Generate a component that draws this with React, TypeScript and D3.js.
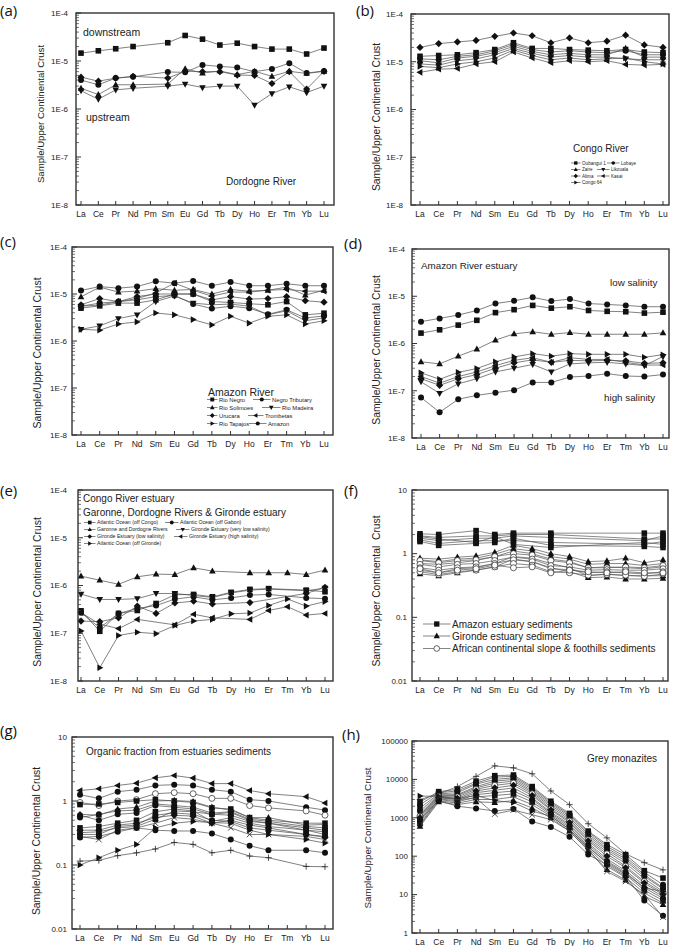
import React from "react";
import * as d3 from "d3";

const REE15 = ["La","Ce","Pr","Nd","Pm","Sm","Eu","Gd","Tb","Dy","Ho","Er","Tm","Yb","Lu"];
const REE14 = ["La","Ce","Pr","Nd","Sm","Eu","Gd","Tb","Dy","Ho","Er","Tm","Yb","Lu"];

const E_TICKS = [1e-8, 1e-7, 1e-6, 1e-5, 1e-4];
const SED_TICKS = [0.01, 0.1, 1, 10];
const MON_TICKS = [1, 10, 100, 1000, 10000, 100000];

// (a) Dordogne River
const aDownstream = [1.46e-5,1.63e-5,1.8e-5,2.0e-5,null,2.4e-5,3.4e-5,2.85e-5,2.15e-5,2.35e-5,2.0e-5,1.77e-5,1.77e-5,1.4e-5,1.86e-5];
const aUp1 = [4.0e-6,3.2e-6,4.4e-6,4.7e-6,null,5.9e-6,5.8e-6,8.3e-6,7.7e-6,7.3e-6,6.0e-6,6.8e-6,9.0e-6,5.6e-6,6.2e-6];
const aUp2 = [4.6e-6,3.8e-6,4.4e-6,4.8e-6,null,4.4e-6,6.1e-6,6.0e-6,6.0e-6,5.1e-6,5.0e-6,3.4e-6,6.0e-6,2.6e-6,6.1e-6];
const aUp3 = [2.7e-6,2.0e-6,3.2e-6,3.2e-6,null,3.3e-6,6.9e-6,5.6e-6,6.2e-6,5.2e-6,6.1e-6,4.8e-6,6.1e-6,5.5e-6,6.1e-6];
const aUp4 = [2.4e-6,1.6e-6,2.5e-6,2.7e-6,null,3.0e-6,3.3e-6,2.8e-6,3.0e-6,3.0e-6,1.2e-6,2.1e-6,2.9e-6,2.2e-6,3.0e-6];

// (b) Congo River
const bOubangui = [1.3e-5,1.35e-5,1.4e-5,1.55e-5,1.8e-5,2.5e-5,1.9e-5,1.9e-5,1.8e-5,1.75e-5,1.7e-5,1.8e-5,1.6e-5,1.55e-5];
const bLobaye = [1.15e-5,1.1e-5,1.3e-5,1.4e-5,1.7e-5,2.3e-5,1.8e-5,1.6e-5,1.7e-5,1.6e-5,1.55e-5,1.7e-5,1.4e-5,1.4e-5];
const bZaire = [1.05e-5,9.5e-6,1.2e-5,1.3e-5,1.55e-5,2.1e-5,1.65e-5,1.4e-5,1.5e-5,1.4e-5,1.4e-5,1.9e-5,1.25e-5,1.25e-5];
const bLikouala = [9e-6,8.5e-6,1.05e-5,1.15e-5,1.4e-5,1.9e-5,1.5e-5,1.25e-5,1.35e-5,1.25e-5,1.25e-5,1.15e-5,1.1e-5,1.1e-5];
const bAlima = [2.0e-5,2.4e-5,2.6e-5,2.8e-5,3.4e-5,4.0e-5,3.5e-5,2.5e-5,3.15e-5,2.5e-5,2.7e-5,3.6e-5,2.25e-5,2.0e-5];
const bKasai = [6e-6,7e-6,7.2e-6,9e-6,1.0e-5,1.6e-5,1.2e-5,9.5e-6,1.05e-5,1.0e-5,1.05e-5,8.8e-6,8.5e-6,8.8e-6];
const bCongo64 = [8e-6,7.5e-6,9e-6,1.0e-5,1.2e-5,1.75e-5,1.35e-5,1.1e-5,1.2e-5,1.1e-5,1.15e-5,1.2e-5,1.0e-5,9e-6];

// (c) Amazon River
const cRioNegro = [5.0e-6,5.6e-6,6.4e-6,6.4e-6,7.5e-6,1.0e-5,1.0e-5,6.9e-6,6.6e-6,6.2e-6,5.9e-6,6.9e-6,3.6e-6,3.9e-6];
const cNegroTrib = [5.5e-6,6.4e-6,6.9e-6,7.5e-6,8.8e-6,9.3e-6,6.1e-6,4.9e-6,5.5e-6,5.0e-6,3.7e-6,4.6e-6,3.1e-6,3.4e-6];
const cSolimoes = [8.7e-6,1.4e-5,1.1e-5,1.15e-5,1.3e-5,1.2e-5,1.25e-5,1.0e-5,1.25e-5,1.15e-5,1.2e-5,1.4e-5,9.5e-6,1.2e-5];
const cMadeira = [1.77e-6,2.1e-6,3.0e-6,3.6e-6,6.9e-6,9.1e-6,6.4e-6,5.9e-6,6.1e-6,5.5e-6,3.6e-6,4.4e-6,2.7e-6,3.1e-6];
const cUrucara = [5.9e-6,8.0e-6,6.9e-6,8.8e-6,1.0e-5,1.0e-5,1.0e-5,7.5e-6,8.8e-6,7.8e-6,8.0e-6,8.8e-6,7.2e-6,6.7e-6];
const cTrombetas = [5.5e-6,5.8e-6,6.9e-6,8.0e-6,1.05e-5,1.7e-5,1.2e-5,9.0e-6,1.1e-5,1.1e-5,1.2e-5,1.25e-5,1.15e-5,1.15e-5];
const cTapajos = [1.77e-6,1.7e-6,2.3e-6,2.55e-6,3.95e-6,3.6e-6,2.85e-6,2.2e-6,3.35e-6,2.4e-6,3.35e-6,3.6e-6,2.3e-6,2.7e-6];
const cAmazon = [1.19e-5,1.44e-5,1.33e-5,1.44e-5,1.86e-5,1.7e-5,1.9e-5,1.5e-5,1.8e-5,1.5e-5,1.5e-5,1.65e-5,1.5e-5,1.5e-5];

// (d) Amazon River estuary
const dLow1 = [2.9e-6,3.4e-6,4.0e-6,5.0e-6,7.0e-6,8.0e-6,9.5e-6,7.9e-6,8.7e-6,7.0e-6,6.7e-6,6.4e-6,6.0e-6,6.0e-6];
const dLow2 = [1.66e-6,1.95e-6,2.45e-6,3.1e-6,4.5e-6,5.2e-6,6.4e-6,5.6e-6,6.0e-6,5.0e-6,4.8e-6,4.7e-6,4.4e-6,4.6e-6];
const dMid = [4.1e-7,3.7e-7,5.4e-7,7.6e-7,1.18e-6,1.6e-6,1.77e-6,1.57e-6,1.7e-6,1.57e-6,1.57e-6,1.57e-6,1.57e-6,1.68e-6];
const dR1 = [2.4e-7,1.75e-7,2.45e-7,2.95e-7,4.1e-7,5.2e-7,6.1e-7,5.4e-7,6.1e-7,5.9e-7,5.9e-7,5.9e-7,5.1e-7,5.8e-7];
const dR2 = [2.0e-7,1.45e-7,2.0e-7,2.5e-7,3.4e-7,4.4e-7,5.0e-7,4.0e-7,5.0e-7,4.6e-7,4.6e-7,4.0e-7,3.5e-7,3.5e-7];
const dR3 = [1.8e-7,1.3e-7,1.8e-7,2.2e-7,3.0e-7,3.9e-7,4.5e-7,4.0e-7,4.4e-7,4.3e-7,4.4e-7,4.3e-7,3.8e-7,3.9e-7];
const dR4 = [1.55e-7,8.8e-8,1.4e-7,1.8e-7,2.5e-7,3.0e-7,3.6e-7,2.5e-7,3.7e-7,3.9e-7,4.0e-7,3.7e-7,3.4e-7,5.3e-7];
const dHigh = [7.2e-8,3.5e-8,6.6e-8,8.0e-8,9.1e-8,1.03e-7,1.5e-7,1.5e-7,1.95e-7,2.05e-7,2.3e-7,2.05e-7,2.0e-7,2.2e-7];

// (e) Congo River estuary, Garonne, Dordogne & Gironde
const eOffCongo = [2.95e-7,1.1e-7,2.6e-7,3.0e-7,4.2e-7,6.4e-7,6.5e-7,5.8e-7,7.2e-7,8.3e-7,8.6e-7,null,8.0e-7,7.4e-7];
const eOffGabon = [2.7e-7,1.3e-7,2.6e-7,3.3e-7,3.8e-7,5.2e-7,5.8e-7,5.0e-7,5.5e-7,6.3e-7,6.5e-7,null,5.5e-7,5.3e-7];
const eGaronne = [1.57e-6,1.29e-6,1.06e-6,1.52e-6,1.73e-6,1.7e-6,2.35e-6,2.0e-6,null,1.85e-6,1.85e-6,1.85e-6,1.7e-6,2.1e-6];
const eVeryLow = [6.6e-7,5.1e-7,5.1e-7,5.3e-7,6.8e-7,6.8e-7,6.2e-7,5.6e-7,7.0e-7,8.0e-7,8.4e-7,null,7.8e-7,8.8e-7];
const eLowSal = [1.8e-7,1.75e-7,2.1e-7,3.7e-7,2.6e-7,4.3e-7,4.7e-7,4.1e-7,null,4.4e-7,null,null,6.8e-7,9.2e-7];
const eHighSal = [2.7e-7,1.55e-7,1.25e-7,1.95e-7,null,1.5e-7,2.5e-7,2.1e-7,null,1.95e-7,3.0e-7,3.6e-7,2.4e-7,2.6e-7];
const eOffGironde = [1.12e-7,1.9e-8,9e-8,1.05e-7,9.8e-8,1.45e-7,1.8e-7,1.95e-7,2.55e-7,2.65e-7,3.8e-7,5.2e-7,3.7e-7,4.6e-7];

// (f) sediments
const fAm1 = [2.05,2.0,null,2.3,2.0,2.1,null,2.1,null,null,null,null,2.1,2.1];
const fAm2 = [1.9,1.8,null,1.9,1.9,2.0,null,2.0,null,null,null,null,1.7,1.7];
const fAm3 = [1.75,1.6,null,1.75,1.75,1.9,null,1.8,null,null,null,null,1.6,1.9];
const fAm4 = [1.65,1.45,null,1.6,1.6,1.6,null,1.5,null,null,null,null,1.4,1.55];
const fAm5 = [1.55,1.35,null,1.45,1.5,1.75,null,1.35,null,null,null,null,1.3,1.25];
const fAm6 = [1.85,1.7,null,1.5,1.85,1.4,null,1.25,null,null,null,null,1.5,1.4];
const fGi1 = [0.85,0.82,0.88,0.92,1.05,1.35,1.2,1.0,0.9,0.75,0.77,0.85,0.72,0.8];
const fGi2 = [0.8,0.75,0.82,0.85,0.98,1.2,1.1,0.9,0.82,0.68,0.7,0.7,0.65,0.7];
const fGi3 = [0.7,0.68,0.72,0.78,0.9,1.1,1.0,0.82,0.75,0.6,0.62,0.6,0.58,0.62];
const fGi4 = [0.55,0.5,0.58,0.6,0.7,0.9,0.85,0.7,0.6,0.45,0.48,0.45,0.45,0.45];
const fGi5 = [0.48,0.45,0.5,0.55,0.62,0.82,0.75,0.6,0.52,0.42,0.43,0.4,0.4,0.41];
const fAf1 = [0.78,0.72,0.78,0.8,0.9,1.0,0.95,0.78,0.72,0.6,0.6,0.62,0.6,0.65];
const fAf2 = [0.68,0.62,0.68,0.7,0.78,0.88,0.82,0.65,0.62,0.55,0.56,0.55,0.55,0.58];
const fAf3 = [0.6,0.55,0.6,0.62,0.7,0.8,0.75,0.58,0.56,0.5,0.52,0.5,0.48,0.52];
const fAf4 = [0.52,0.47,0.52,0.55,0.62,0.7,0.66,0.52,0.5,0.46,0.47,0.46,0.44,0.48];
const fAf5 = [0.58,0.5,0.55,0.58,0.66,0.6,0.62,0.5,0.55,0.52,0.5,0.52,0.5,0.5];

// (g) organic fraction
const g1 = [1.46,1.55,1.75,1.9,2.3,2.5,2.28,1.87,1.87,1.46,1.3,null,1.17,0.93];
const g2 = [1.25,1.1,1.4,1.5,1.75,1.8,1.75,1.5,1.4,1.05,1.0,null,0.8,0.72];
const g3 = [0.95,0.85,1.0,1.05,1.3,1.35,1.3,1.1,1.1,0.85,0.78,null,0.7,0.6];
const g4 = [0.88,0.9,0.95,1.0,1.05,1.0,0.95,0.78,0.75,0.55,0.5,null,0.45,0.45];
const g5 = [0.62,0.6,0.75,0.8,1.0,1.02,0.98,0.8,0.72,0.55,0.55,null,0.42,0.43];
const g6 = [0.6,0.5,0.62,0.65,0.85,0.8,0.75,0.62,0.6,0.48,0.45,null,0.38,0.35];
const g7 = [0.38,0.4,0.45,0.5,0.68,0.75,0.7,0.48,0.55,0.45,0.4,null,0.35,0.33];
const g8 = [0.28,0.25,0.35,0.38,0.45,0.55,0.52,0.45,0.38,0.3,0.3,null,0.28,0.25];
const g9 = [0.3,0.3,0.4,0.42,0.6,0.65,0.62,0.5,0.48,0.38,0.35,null,0.3,0.28];
const g10 = [0.27,0.28,0.33,0.38,0.35,0.34,0.34,0.31,0.25,0.2,0.17,null,0.17,0.155];
const g11 = [0.1,0.13,0.17,0.21,0.38,0.45,0.48,0.46,0.45,0.35,0.3,null,0.25,0.22];
const g12 = [0.115,0.118,0.14,0.155,0.178,0.225,0.21,0.155,0.17,0.138,0.13,null,0.095,0.094];
const g13 = [0.35,0.35,0.42,0.45,0.55,0.6,0.58,0.45,0.5,0.42,0.38,null,0.3,0.27];
const g14 = [0.55,0.62,0.7,0.72,0.9,0.85,0.8,0.65,0.68,0.52,0.48,null,0.4,0.38];
const g15 = [0.32,0.33,0.38,0.4,0.52,0.7,0.68,0.62,0.66,0.5,0.45,null,0.35,0.3];

// (h) grey monazites
const h1 = [3000,4200,6500,12000,22500,20000,14000,5000,2200,700,300,115,68,44];
const h2 = [2600,4800,5500,9000,12500,13000,6500,2700,1300,450,200,110,42,27];
const h3 = [2200,4500,5000,8000,11500,12000,6000,2500,1200,420,180,95,38,18];
const h4 = [1800,4200,4500,7500,10000,11000,5500,2300,1100,380,160,85,33,15];
const h5 = [1500,4000,4000,6500,9000,10000,5000,2100,1000,340,145,75,30,14];
const h6 = [1300,3800,3800,6000,8000,9000,4600,1900,900,300,130,65,26,12];
const h7 = [1100,3600,3500,5500,7000,8000,4200,1700,820,270,115,55,22,11];
const h8 = [1000,3400,3200,5000,6000,7000,3800,1600,750,250,100,50,20,10];
const h9 = [900,3300,3000,4500,5200,6000,3300,1400,680,220,85,42,17,9];
const h10 = [800,3100,2800,4000,4500,5000,3000,1300,620,200,75,38,15,8];
const h11 = [700,3000,2600,3500,3800,4200,2600,1200,560,180,65,33,13,7];
const h12 = [650,2800,2400,3000,3000,3500,2200,1100,500,160,55,28,11,6];
const h13 = [600,2600,2200,2600,2500,2800,1800,1000,450,140,45,24,9,5.5];
const h14 = [900,2800,2000,1750,1500,1700,800,580,320,110,60,30,7,2.8];
const h15 = [3700,3600,3200,3800,2800,2500,1500,1100,500,170,70,35,15,12];
const h16 = [1200,3500,3000,3200,1250,1600,1200,900,450,150,40,22,10,2.6];

type Val = number | null;
type Series = { v: Val[]; m: string };

function Marker({ m, x, y, s = 1 }: { m: string; x: number; y: number; s?: number }) {
  const t = `translate(${x},${y}) scale(${s})`;
  const fill = "#111";
  if (m === "circle") return <circle cx={x} cy={y} r={3 * s} fill={fill} />;
  if (m === "ocircle") return <circle cx={x} cy={y} r={3 * s} fill="#fff" stroke="#222" strokeWidth={0.7} />;
  if (m === "square") return <rect x={x - 2.8 * s} y={y - 2.8 * s} width={5.6 * s} height={5.6 * s} fill={fill} />;
  if (m === "diamond") return <path d="M0,-3.6L3.6,0L0,3.6L-3.6,0Z" transform={t} fill={fill} />;
  if (m === "x") return <path d="M-2.8,-2.8L2.8,2.8M-2.8,2.8L2.8,-2.8" transform={t} stroke="#222" strokeWidth={0.8 / s} fill="none" />;
  if (m === "plus") return <path d="M-3.2,0H3.2M0,-3.2V3.2" transform={t} stroke="#222" strokeWidth={0.8 / s} fill="none" />;
  const rot = m === "triangle" ? 0 : m === "tdown" ? 180 : m === "tleft" ? -90 : 90;
  return <path d="M0,-3.6L3.3,2.4L-3.3,2.4Z" transform={`${t} rotate(${rot})`} fill={fill} />;
}

type LegendEntry = { label: string; m: string; x: number; tx: number; y: number };

type PanelProps = {
  L: number; T: number; R: number; B: number; x0: number; x1: number;
  cats: string[]; ticks: number[]; fmt: (v: number) => string; tickGap: number;
  titleX: number; titleY: number; titleSize: number; title?: string;
  series: Series[]; lineColor?: string; children?: React.ReactNode;
};

function Panel(p: PanelProps) {
  const x = d3.scalePoint<string>().domain(p.cats).range([p.x0, p.x1]);
  const y = d3.scaleLog().domain([p.ticks[0], p.ticks[p.ticks.length - 1]]).range([p.B, p.T]);
  const minor: number[] = [];
  for (let i = 0; i < p.ticks.length - 1; i++) for (let k = 2; k <= 9; k++) minor.push(p.ticks[i] * k);
  const line = d3.line<[number, number]>().x(d => d[0]).y(d => d[1]);
  const fnt = "'Liberation Sans', Arial, sans-serif";
  return (
    <g>
      {p.series.map((s, si) => {
        const pts: [number, number][] = [];
        s.v.forEach((v, i) => { if (v != null) pts.push([x(p.cats[i])!, y(v)]); });
        return (
          <g key={si}>
            <path d={line(pts) || ""} fill="none" stroke={p.lineColor || "#4a4a4a"} strokeWidth={0.7} />
            {pts.map((q, j) => <Marker key={j} m={s.m} x={q[0]} y={q[1]} />)}
          </g>
        );
      })}
      <rect x={p.L} y={p.T} width={p.R - p.L} height={p.B - p.T} fill="none" stroke="#333" strokeWidth={1.4} />
      {p.ticks.map((t, i) => (
        <g key={"t" + i}>
          <line x1={p.L} x2={p.L + 5} y1={y(t)} y2={y(t)} stroke="#333" strokeWidth={1} />
          <text x={p.L - p.tickGap} y={y(t)} dy="0.35em" textAnchor="end" fontSize={8} fontFamily={fnt} fill="#222">{p.fmt(t)}</text>
        </g>
      ))}
      {minor.map((t, i) => (
        <line key={"m" + i} x1={p.L} x2={p.L + 3} y1={y(t)} y2={y(t)} stroke="#333" strokeWidth={0.7} />
      ))}
      {p.cats.map((c) => (
        <g key={c}>
          <line x1={x(c)} x2={x(c)} y1={p.B} y2={p.B - 4} stroke="#333" strokeWidth={1} />
          <text x={x(c)} y={p.B + 11.5} textAnchor="middle" fontSize={8.5} fontFamily={fnt} fill="#222">{c}</text>
        </g>
      ))}
      <text transform={`translate(${p.titleX},${p.titleY}) rotate(-90)`} textAnchor="middle" fontSize={p.titleSize} fontFamily={fnt} fill="#222" style={{ whiteSpace: "pre" }}>
        {p.title || "Sample/Upper Continental Crust"}
      </text>
      {p.children}
    </g>
  );
}

function Legend({ entries, size, ms }: { entries: LegendEntry[]; size: number; ms: number }) {
  return (
    <g>
      {entries.map((e, i) => (
        <g key={i}>
          <line x1={e.x} x2={e.tx - 1.5} y1={e.y} y2={e.y} stroke="#333" strokeWidth={0.6} />
          <Marker m={e.m} x={(e.x + e.tx - 1.5) / 2} y={e.y} s={ms} />
          <text x={e.tx} y={e.y} dy="0.35em" fontSize={size} fontFamily="'Liberation Sans', Arial, sans-serif" fill="#222">{e.label}</text>
        </g>
      ))}
    </g>
  );
}

const efmt = (v: number) => `1E${Math.round(Math.log10(v))}`;
const nfmt = (v: number) => String(v);
const FONT = "'Liberation Sans', Arial, sans-serif";

function Ann({ x, y, t, s = 10 }: { x: number; y: number; t: string; s?: number }) {
  return <text x={x} y={y} fontSize={s} fontFamily={FONT} fill="#222">{t}</text>;
}
function Lab({ x, y, t }: { x: number; y: number; t: string }) {
  return <text x={x} y={y} fontSize={15} fontFamily="'Open Sans', 'Liberation Sans', sans-serif" fill="#111">{t}</text>;
}

export default function App() {
  const legB: LegendEntry[] = [
    { label: "Oubangui 1", m: "square", x: 571, tx: 582, y: 163 },
    { label: "Lobaye", m: "circle", x: 607, tx: 621, y: 163 },
    { label: "Zaire", m: "triangle", x: 571, tx: 582, y: 169.5 },
    { label: "Likouala", m: "tdown", x: 597, tx: 611, y: 169.5 },
    { label: "Alima", m: "diamond", x: 571, tx: 582, y: 176 },
    { label: "Kasai", m: "tleft", x: 597, tx: 611, y: 176 },
    { label: "Congo 64", m: "tright", x: 571, tx: 582, y: 182.5 },
  ];
  const legC: LegendEntry[] = [
    { label: "Rio Negro", m: "square", x: 207, tx: 219, y: 399.5 },
    { label: "Negro Tributary", m: "circle", x: 253, tx: 272, y: 399.5 },
    { label: "Rio Solimoes", m: "triangle", x: 207, tx: 219, y: 407.5 },
    { label: "Rio Madeira", m: "tdown", x: 262, tx: 282, y: 407.5 },
    { label: "Urucara", m: "diamond", x: 207, tx: 219, y: 415.5 },
    { label: "Trombetas", m: "tleft", x: 248, tx: 265, y: 415.5 },
    { label: "Rio Tapajos", m: "tright", x: 207, tx: 219, y: 423.5 },
    { label: "Amazon", m: "circle", x: 249, tx: 268, y: 423.5 },
  ];
  const legE: LegendEntry[] = [
    { label: "Atlantic Ocean (off Congo)", m: "square", x: 84, tx: 97, y: 522.5 },
    { label: "Atlantic Ocean (off Gabon)", m: "circle", x: 165, tx: 180, y: 522.5 },
    { label: "Garonne and Dordogne Rivers", m: "triangle", x: 84, tx: 97, y: 529.5 },
    { label: "Gironde Estuary (very low salinity)", m: "tdown", x: 176, tx: 191, y: 529.5 },
    { label: "Gironde Estuary (low salinity)", m: "diamond", x: 84, tx: 97, y: 536.5 },
    { label: "Gironde Estuary (high salinity)", m: "tleft", x: 174, tx: 189, y: 536.5 },
    { label: "Atlantic Ocean (off Gironde)", m: "tright", x: 84, tx: 97, y: 543.5 },
  ];
  const legF: LegendEntry[] = [
    { label: "Amazon estuary sediments", m: "square", x: 423, tx: 452, y: 624 },
    { label: "Gironde estuary sediments", m: "triangle", x: 423, tx: 452, y: 636 },
    { label: "African continental slope & foothills sediments", m: "ocircle", x: 423, tx: 452, y: 648.5 },
  ];

  return (
    <svg width={675} height={946} style={{ position: "absolute", left: 0, top: 0, background: "#fff" }}>
      <rect width={675} height={946} fill="#fff" />
      {/* (a) */}
      <Lab x={0} y={16} t="(a)" />
      <Panel L={76} T={13} R={334} B={205} x0={81} x1={324} cats={REE15} ticks={E_TICKS} fmt={efmt} tickGap={8}
        titleX={44} titleY={114} titleSize={9.6}
        series={[
          { v: aDownstream, m: "square" }, { v: aUp1, m: "circle" }, { v: aUp2, m: "diamond" },
          { v: aUp3, m: "triangle" }, { v: aUp4, m: "tdown" },
        ]}>
        <Ann x={83} y={36} t="downstream" s={10.5} />
        <Ann x={86} y={121} t="upstream" s={10.5} />
        <Ann x={226} y={185} t="Dordogne River" s={10} />
      </Panel>

      {/* (b) */}
      <Lab x={356} y={16} t="(b)" />
      <Panel L={411} T={14} R={669} B={205} x0={420} x1={663} cats={REE14} ticks={E_TICKS} fmt={efmt} tickGap={8}
        titleX={380} titleY={117} titleSize={10.3}
        series={[
          { v: bOubangui, m: "square" }, { v: bLobaye, m: "circle" }, { v: bZaire, m: "triangle" },
          { v: bLikouala, m: "tdown" }, { v: bAlima, m: "diamond" }, { v: bKasai, m: "tleft" }, { v: bCongo64, m: "tright" },
        ]}>
        <Ann x={573} y={152} t="Congo River" s={10} />
        <Legend entries={legB} size={4.6} ms={0.6} />
      </Panel>

      {/* (c) */}
      <Lab x={0} y={247} t="(c)" />
      <Panel L={72} T={247} R={333} B={435} x0={81} x1={324} cats={REE14} ticks={E_TICKS} fmt={efmt} tickGap={5}
        titleX={41} titleY={353} titleSize={10.5}
        series={[
          { v: cRioNegro, m: "square" }, { v: cNegroTrib, m: "circle" }, { v: cSolimoes, m: "triangle" },
          { v: cMadeira, m: "tdown" }, { v: cUrucara, m: "diamond" }, { v: cTrombetas, m: "tleft" },
          { v: cTapajos, m: "tright" }, { v: cAmazon, m: "circle" },
        ]}>
        <Ann x={208} y={396} t="Amazon River" s={10.5} />
        <Legend entries={legC} size={5.8} ms={0.7} />
      </Panel>

      {/* (d) */}
      <Lab x={344} y={249} t="(d)" />
      <Panel L={412} T={249} R={669} B={438} x0={421} x1={663} cats={REE14} ticks={E_TICKS} fmt={efmt} tickGap={7}
        titleX={380} titleY={350} titleSize={10.4}
        series={[
          { v: dLow1, m: "circle" }, { v: dLow2, m: "square" }, { v: dMid, m: "triangle" },
          { v: dR1, m: "tright" }, { v: dR2, m: "tleft" }, { v: dR3, m: "diamond" }, { v: dR4, m: "tdown" },
          { v: dHigh, m: "circle" },
        ]}>
        <Ann x={421} y={269} t="Amazon River estuary" s={9.8} />
        <Ann x={610} y={286} t="low salinity" s={9.8} />
        <Ann x={604} y={401} t="high salinity" s={9.8} />
      </Panel>

      {/* (e) */}
      <Lab x={0} y={496} t="(e)" />
      <Panel L={78} T={490} R={333} B={681} x0={81} x1={325} cats={REE14} ticks={E_TICKS} fmt={efmt} tickGap={11}
        titleX={41} titleY={592} titleSize={10.4}
        series={[
          { v: eOffCongo, m: "square" }, { v: eOffGabon, m: "circle" }, { v: eGaronne, m: "triangle" },
          { v: eVeryLow, m: "tdown" }, { v: eLowSal, m: "diamond" }, { v: eHighSal, m: "tleft" },
          { v: eOffGironde, m: "tright" },
        ]}>
        <Ann x={83} y={502} t="Congo River estuary" s={10} />
        <Ann x={83} y={516} t="Garonne, Dordogne Rivers & Gironde estuary" s={10} />
        <Legend entries={legE} size={5.2} ms={0.65} />
      </Panel>

      {/* (f) */}
      <Lab x={344} y={496} t="(f)" />
      <Panel L={412} T={490} R={668} B={681} x0={420} x1={663} cats={REE14} ticks={SED_TICKS} fmt={nfmt} tickGap={5}
        titleX={380} titleY={591} titleSize={10.3} title={"Sample/Upper Continental  Crust"} lineColor="#555"
        series={[
          { v: fAm1, m: "square" }, { v: fAm2, m: "square" }, { v: fAm3, m: "square" }, { v: fAm4, m: "square" },
          { v: fAm5, m: "square" }, { v: fAm6, m: "square" },
          { v: fGi1, m: "triangle" }, { v: fGi2, m: "triangle" }, { v: fGi3, m: "triangle" }, { v: fGi4, m: "triangle" },
          { v: fGi5, m: "triangle" },
          { v: fAf1, m: "ocircle" }, { v: fAf2, m: "ocircle" }, { v: fAf3, m: "ocircle" }, { v: fAf4, m: "ocircle" },
          { v: fAf5, m: "ocircle" },
        ]}>
        <Legend entries={legF} size={10} ms={0.95} />
      </Panel>

      {/* (g) */}
      <Lab x={0} y={736} t="(g)" />
      <Panel L={72} T={737} R={333} B={929} x0={80} x1={325} cats={REE14} ticks={SED_TICKS} fmt={nfmt} tickGap={5}
        titleX={40} titleY={841} titleSize={10.3}
        series={[
          { v: g1, m: "tleft" }, { v: g2, m: "circle" }, { v: g3, m: "ocircle" }, { v: g4, m: "square" },
          { v: g5, m: "triangle" }, { v: g6, m: "circle" }, { v: g7, m: "square" }, { v: g8, m: "x" },
          { v: g9, m: "circle" }, { v: g10, m: "circle" }, { v: g11, m: "tright" }, { v: g12, m: "plus" },
          { v: g13, m: "diamond" }, { v: g14, m: "circle" }, { v: g15, m: "square" },
        ]}>
        <Ann x={86} y={755} t="Organic fraction from estuaries sediments" s={10} />
      </Panel>

      {/* (h) */}
      <Lab x={342} y={740} t="(h)" />
      <Panel L={412} T={741} R={668} B={933} x0={420} x1={663} cats={REE14} ticks={MON_TICKS} fmt={nfmt} tickGap={4}
        titleX={371} titleY={838} titleSize={9.8}
        series={[
          { v: h1, m: "plus" }, { v: h2, m: "square" }, { v: h3, m: "circle" }, { v: h4, m: "square" },
          { v: h5, m: "circle" }, { v: h6, m: "triangle" }, { v: h7, m: "ocircle" }, { v: h8, m: "diamond" },
          { v: h9, m: "x" }, { v: h10, m: "circle" }, { v: h11, m: "square" }, { v: h12, m: "plus" },
          { v: h13, m: "triangle" }, { v: h14, m: "circle" }, { v: h15, m: "tright" }, { v: h16, m: "x" },
        ]}>
        <Ann x={587} y={762} t="Grey monazites" s={10} />
      </Panel>
    </svg>
  );
}
